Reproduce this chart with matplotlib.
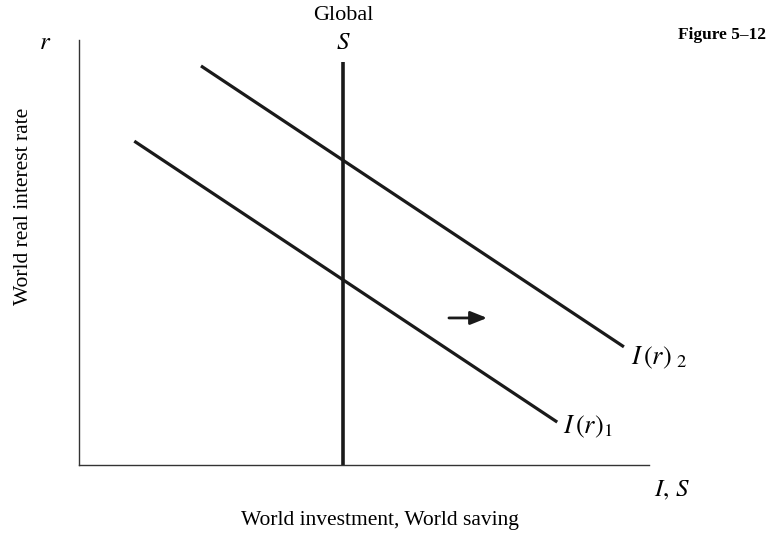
import matplotlib.pyplot as plt
import numpy as np

plt.rcParams['font.family'] = 'Liberation Serif'
plt.rcParams['mathtext.fontset'] = 'stix'

# curve endpoints (x, r) in diagram units
i1_x = [0.97, 8.39]
i1_y = [7.62, 1.01]
i2_x = [2.14, 9.56]
i2_y = [9.39, 2.78]
s_x = [4.63, 4.63]
s_y = [0.0, 9.48]
arrow_x = [6.49, 7.16]
arrow_y = 3.46

W, H = 769, 535
fig = plt.figure(figsize=(7.69, 5.35), dpi=100)
ax = fig.add_axes([79 / W, 70 / H, 570 / W, 425 / H])
ax.set_xlim(0, 10)
ax.set_ylim(0, 10)
ax.spines['top'].set_visible(False)
ax.spines['right'].set_visible(False)
for sp in ['left', 'bottom']:
    ax.spines[sp].set_color('#333333')
    ax.spines[sp].set_linewidth(1.0)
ax.set_xticks([])
ax.set_yticks([])

lc = '#1a1a1a'
ax.plot(i1_x, i1_y, color=lc, lw=2.3, solid_capstyle='butt', clip_on=False)
ax.plot(i2_x, i2_y, color=lc, lw=2.3, solid_capstyle='butt', clip_on=False)
ax.plot(s_x, s_y, color=lc, lw=2.6, solid_capstyle='butt', clip_on=False)
ax.annotate('', xy=(arrow_x[1], arrow_y), xytext=(arrow_x[0], arrow_y),
            arrowprops=dict(arrowstyle='-|>,head_length=1.0,head_width=0.4',
                            color=lc, lw=2.0, shrinkA=0, shrinkB=0))

# text labels placed in figure pixels
def ftext(px, py, s, **kw):
    fig.text(px / W, 1 - py / H, s, **kw)

ftext(343, 15, 'Global', ha='center', va='center', fontsize=16)
ftext(343, 43, '$S$', ha='center', va='center', fontsize=18)
ftext(45, 43, '$r$', ha='center', va='center', fontsize=18)
ftext(672, 490, '$I,\\, S$', ha='center', va='center', fontsize=18)
ftext(563, 427, '$I\\,(r)_{1}$', ha='left', va='center', fontsize=19)
ftext(631, 358, '$I\\,(r)\\;_{2}$', ha='left', va='center', fontsize=19)

ftext(380, 521, 'World investment, World saving', ha='center', va='center', fontsize=15.5)
ftext(24, 206, 'World real interest rate', ha='center', va='center',
      rotation=90, fontsize=15.5)

ftext(766, 35, 'Figure 5–12', ha='right', va='center',
      fontsize=12.5, fontweight='bold')

fig.savefig('out.png', dpi=100)
